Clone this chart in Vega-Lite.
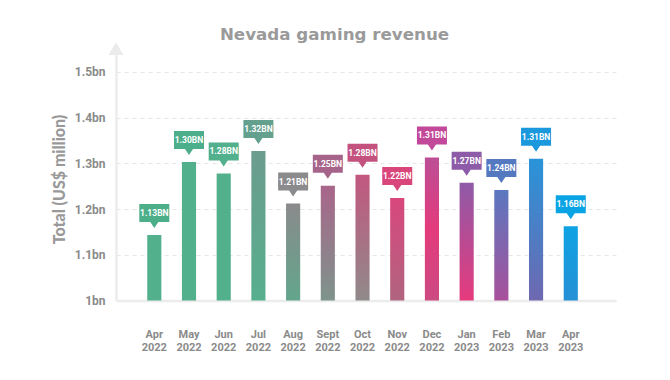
{
  "$schema": "https://vega.github.io/schema/vega-lite/v6.json",
  "width": 500,
  "height": 252.5,
  "autosize": {"type": "none"},
  "padding": {"left": 116, "top": 48, "right": 54, "bottom": 79.5},
  "background": "white",
  "title": {
    "text": "Nevada gaming revenue",
    "font": "DejaVu Sans",
    "fontSize": 16.7,
    "fontWeight": "bold",
    "color": "#9a9a9a",
    "anchor": "middle",
    "frame": "group",
    "dx": -31.5,
    "offset": -1
  },
  "config": {"view": {"stroke": null}},
  "data": {
    "values": [
      {"month": "Apr 2022", "value": 1.1435, "label": "1.13BN"},
      {"month": "May 2022", "value": 1.303, "label": "1.30BN"},
      {"month": "Jun 2022", "value": 1.278, "label": "1.28BN"},
      {"month": "Jul 2022", "value": 1.327, "label": "1.32BN"},
      {"month": "Aug 2022", "value": 1.212, "label": "1.21BN"},
      {"month": "Sept 2022", "value": 1.251, "label": "1.25BN"},
      {"month": "Oct 2022", "value": 1.275, "label": "1.28BN"},
      {"month": "Nov 2022", "value": 1.224, "label": "1.22BN"},
      {"month": "Dec 2022", "value": 1.313, "label": "1.31BN"},
      {"month": "Jan 2023", "value": 1.2575, "label": "1.27BN"},
      {"month": "Feb 2023", "value": 1.2415, "label": "1.24BN"},
      {"month": "Mar 2023", "value": 1.31, "label": "1.31BN"},
      {"month": "Apr 2023", "value": 1.1626, "label": "1.16BN"}
    ]
  },
  "resolve": {"scale": {"x": "independent"}},
  "layer": [
    {
      "encoding": {
        "x": {
          "field": "month",
          "type": "ordinal",
          "sort": null,
          "scale": {"paddingInner": 0.593, "paddingOuter": 1.064, "align": 0.45},
          "axis": {
            "title": null,
            "labelExpr": "split(datum.label, ' ')",
            "labelAngle": 0,
            "labelFont": "Roboto",
            "labelFontSize": 11,
            "labelFontWeight": "bold",
            "labelColor": "#8a8a8a",
            "labelLineHeight": 13,
            "labelBaseline": "top",
            "labelPadding": 28,
            "ticks": false,
            "domainColor": "#ececec",
            "domainWidth": 2.5
          }
        },
        "y": {
          "field": "value",
          "type": "quantitative",
          "scale": {"domain": [1, 1.5522], "zero": false, "nice": false},
          "axis": {
            "title": "Total (US$ million)",
            "values": [1, 1.1, 1.2, 1.3, 1.4, 1.5],
            "labelExpr": "datum.value == 1 ? '1bn' : format(datum.value, '.1f') + 'bn'",
            "grid": true,
            "gridDash": [4, 4],
            "gridColor": "#e6e6e6",
            "ticks": false,
            "domainColor": "#ececec",
            "domainWidth": 2.5,
            "labelPadding": 11,
            "labelFont": "Roboto",
            "labelFontSize": 12,
            "labelFontWeight": "bold",
            "labelColor": "#8a8a8a",
            "titleFont": "Lato",
            "titleFontSize": 16,
            "titleFontWeight": 900,
            "titleColor": "#999999",
            "titleAngle": 270,
            "titleX": -57,
            "titleY": 131,
            "titleAlign": "center",
            "titleBaseline": "middle"
          }
        }
      },
      "layer": [
        {
          "mark": {"type": "bar"},
          "encoding": {
            "y2": {"datum": 1},
            "color": {
              "condition": [
                {"test": "datum.month === 'Jul 2022'", "value": {"gradient": "linear", "x1": 0, "y1": 0, "x2": 0, "y2": 1, "stops": [{"offset": 0, "color": "#6c9c8e"}, {"offset": 1, "color": "#56af8e"}]}},
                {"test": "datum.month === 'Aug 2022'", "value": {"gradient": "linear", "x1": 0, "y1": 0, "x2": 0, "y2": 1, "stops": [{"offset": 0, "color": "#8b8a8c"}, {"offset": 1, "color": "#62a68c"}]}},
                {"test": "datum.month === 'Sept 2022'", "value": {"gradient": "linear", "x1": 0, "y1": 0, "x2": 0, "y2": 1, "stops": [{"offset": 0, "color": "#a9658a"}, {"offset": 1, "color": "#7e948c"}]}},
                {"test": "datum.month === 'Oct 2022'", "value": {"gradient": "linear", "x1": 0, "y1": 0, "x2": 0, "y2": 1, "stops": [{"offset": 0, "color": "#c2577f"}, {"offset": 1, "color": "#908a8a"}]}},
                {"test": "datum.month === 'Nov 2022'", "value": {"gradient": "linear", "x1": 0, "y1": 0, "x2": 0, "y2": 1, "stops": [{"offset": 0, "color": "#d9477d"}, {"offset": 1, "color": "#b0647f"}]}},
                {"test": "datum.month === 'Dec 2022'", "value": {"gradient": "linear", "x1": 0, "y1": 0, "x2": 0, "y2": 1, "stops": [{"offset": 0, "color": "#bc4e96"}, {"offset": 0.5, "color": "#e33b7b"}, {"offset": 1, "color": "#cc4a82"}]}},
                {"test": "datum.month === 'Jan 2023'", "value": {"gradient": "linear", "x1": 0, "y1": 0, "x2": 0, "y2": 1, "stops": [{"offset": 0, "color": "#8e5aa8"}, {"offset": 1, "color": "#e63a7c"}]}},
                {"test": "datum.month === 'Feb 2023'", "value": {"gradient": "linear", "x1": 0, "y1": 0, "x2": 0, "y2": 1, "stops": [{"offset": 0, "color": "#5a78c0"}, {"offset": 1, "color": "#a8509a"}]}},
                {"test": "datum.month === 'Mar 2023'", "value": {"gradient": "linear", "x1": 0, "y1": 0, "x2": 0, "y2": 1, "stops": [{"offset": 0, "color": "#2994d9"}, {"offset": 1, "color": "#6e68b0"}]}},
                {"test": "datum.month === 'Apr 2023'", "value": {"gradient": "linear", "x1": 0, "y1": 0, "x2": 0, "y2": 1, "stops": [{"offset": 0, "color": "#0ea3e3"}, {"offset": 1, "color": "#2590d5"}]}}
              ],
              "value": "#53b08d"
            }
          }
        },
        {
          "mark": {
            "type": "point",
            "shape": "M-1,-0.6H1V0.6H0.27L0,1L-0.27,0.6H-1Z",
            "size": 900,
            "filled": true,
            "opacity": 1,
            "strokeWidth": 0,
            "yOffset": -22
          },
          "encoding": {
            "color": {
              "field": "month",
              "type": "nominal",
              "sort": null,
              "legend": null,
              "scale": {
                "domain": ["Apr 2022", "May 2022", "Jun 2022", "Jul 2022", "Aug 2022", "Sept 2022", "Oct 2022", "Nov 2022", "Dec 2022", "Jan 2023", "Feb 2023", "Mar 2023", "Apr 2023"],
                "range": ["#4daf8a", "#4dae8b", "#52b08c", "#64a08e", "#8b8a8c", "#a7648a", "#c4527f", "#d9467c", "#c2489a", "#8d5ba8", "#5579c0", "#1c98dd", "#0aa4e4"]
              }
            }
          }
        },
        {
          "mark": {
            "type": "text",
            "font": "Roboto",
            "fontSize": 8.5,
            "fontWeight": "bold",
            "color": "white",
            "align": "center",
            "baseline": "middle",
            "yOffset": -22
          },
          "encoding": {"text": {"field": "label"}}
        }
      ]
    },
    {
      "mark": {"type": "point", "shape": "triangle-up", "size": 170, "filled": true, "opacity": 1, "color": "#ebebeb", "strokeWidth": 0, "clip": false},
      "encoding": {
        "x": {"datum": 0, "type": "quantitative", "scale": {"domain": [0, 1]}, "axis": null},
        "y": {"datum": 1.551, "type": "quantitative"}
      }
    }
  ]
}
